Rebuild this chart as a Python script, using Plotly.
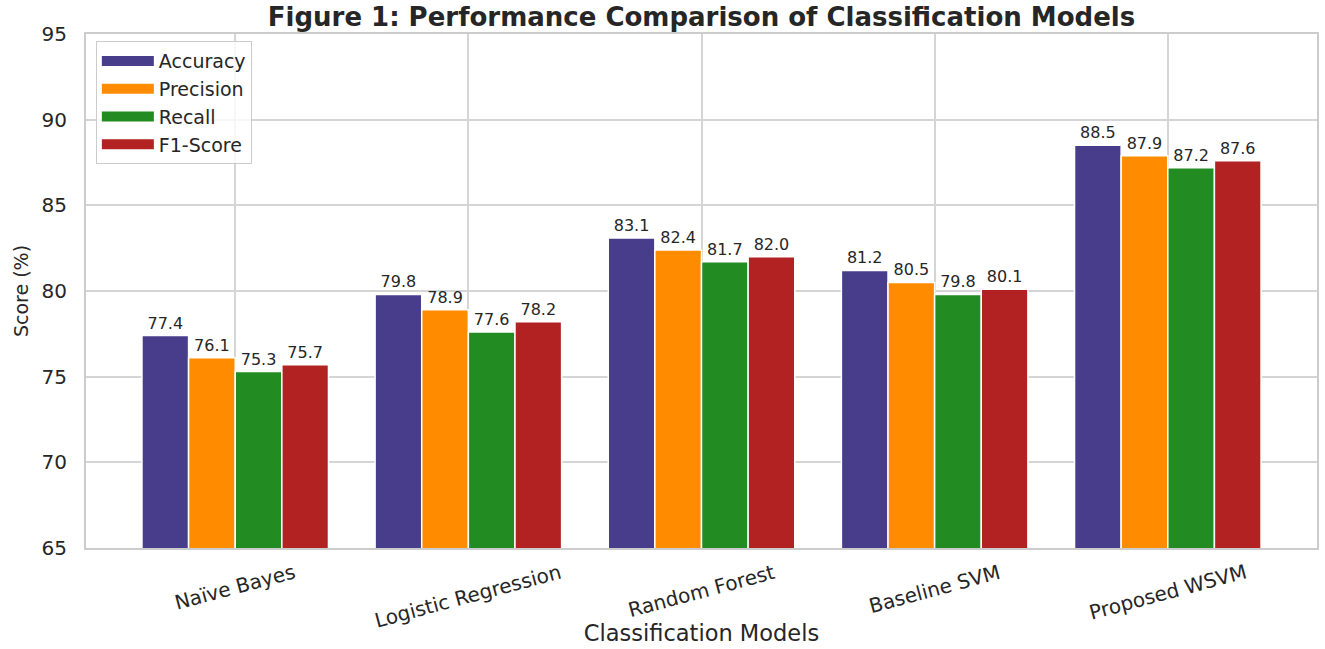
import plotly.graph_objects as go

models = ["Naïve Bayes", "Logistic Regression", "Random Forest", "Baseline SVM", "Proposed WSVM"]
metrics = ["Accuracy", "Precision", "Recall", "F1-Score"]
accuracy = [77.4, 79.8, 83.1, 81.2, 88.5]
precision = [76.1, 78.9, 82.4, 80.5, 87.9]
recall = [75.3, 77.6, 81.7, 79.8, 87.2]
f1_score = [75.7, 78.2, 82.0, 80.1, 87.6]
colors = ["#483D8B", "#FF8C00", "#228B22", "#B22222"]
y_ticks = [65, 70, 75, 80, 85, 90, 95]

series = [accuracy, precision, recall, f1_score]
font_family = "DejaVu Sans"
text_color = "#262626"
grid_color = "#d5d5d5"

fig = go.Figure()
for name, values, color in zip(metrics, series, colors):
    fig.add_trace(go.Bar(
        name=name,
        x=list(range(len(models))),
        y=values,
        base=0,
        marker=dict(color=color, line=dict(color="white", width=1.5)),
        text=[f"{v:.1f}" for v in values],
        textposition="outside",
        textfont=dict(family=font_family, size=16, color=text_color),
        cliponaxis=False,
        showlegend=False,
    ))

# Legend entries drawn as wide colour patches
for name, color in zip(metrics, colors):
    fig.add_trace(go.Scatter(
        name=name,
        x=[None],
        y=[None],
        mode="lines",
        line=dict(color=color, width=11),
        showlegend=True,
    ))

# Category labels rotated about their centre, hanging below the axis
for i, label in enumerate(models):
    fig.add_annotation(
        x=i,
        xref="x",
        y=-9 / 514,
        yref="paper",
        text=label,
        showarrow=False,
        textangle=-15,
        xanchor="center",
        yanchor="top",
        font=dict(family=font_family, size=20, color=text_color),
    )

fig.update_layout(
    width=1325,
    height=649,
    barmode="group",
    bargap=0.2,
    bargroupgap=0,
    plot_bgcolor="white",
    paper_bgcolor="white",
    margin=dict(l=86, r=8, t=34, b=101, autoexpand=False),
    font=dict(family=font_family, color=text_color),
    title=dict(
        text="<b>Figure 1: Performance Comparison of Classification Models</b>",
        x=(86 + 1317) / 2 / 1325,
        xanchor="center",
        y=1 - 17 / 649,
        yanchor="middle",
        font=dict(family=font_family, size=26, color=text_color),
    ),
    legend=dict(
        x=0.008,
        y=0.986,
        xanchor="left",
        yanchor="top",
        bgcolor="rgba(255,255,255,0.8)",
        bordercolor="#cccccc",
        borderwidth=1,
        font=dict(family=font_family, size=19, color=text_color),
        itemwidth=52,
        tracegroupgap=0,
    ),
    xaxis=dict(
        tickmode="array",
        tickvals=list(range(len(models))),
        showticklabels=False,
        range=[-0.64, 4.64],
        showgrid=True,
        gridcolor=grid_color,
        gridwidth=1.5,
        showline=True,
        linecolor="#cccccc",
        linewidth=2,
        mirror=True,
        ticks="",
        zeroline=False,
        title=dict(text="Classification Models", font=dict(family=font_family, size=22.5, color=text_color), standoff=76),
    ),
    yaxis=dict(
        range=[65, 95],
        tickvals=y_ticks,
        showgrid=True,
        gridcolor=grid_color,
        gridwidth=1.5,
        showline=True,
        linecolor="#cccccc",
        linewidth=2,
        mirror=True,
        ticks="",
        ticklabelstandoff=13,
        zeroline=False,
        tickfont=dict(family=font_family, size=20, color=text_color),
        title=dict(text="Score (%)", font=dict(family=font_family, size=19, color=text_color), standoff=8),
    ),
)

fig.write_html("out.html")
